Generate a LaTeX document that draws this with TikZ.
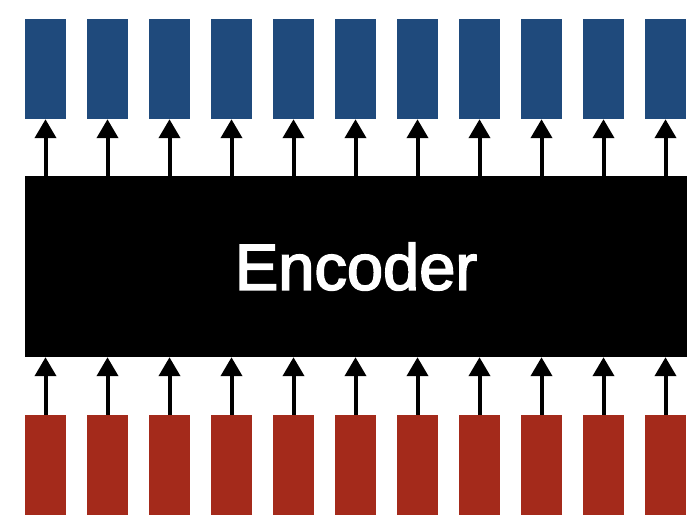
\documentclass[tikz,border=0pt]{standalone}
\usepackage{fontspec}
\setmainfont{Liberation Sans}
\newfontfamily\encfont[FakeBold=2.6]{Liberation Sans}
\usetikzlibrary{arrows.meta}

\definecolor{outblue}{RGB}{31,74,124}
\definecolor{inred}{RGB}{164,42,27}

\tikzset{
  vecbox/.style={minimum width=41pt, minimum height=100pt, inner sep=0pt},
  encbox/.style={fill=black, text=white, minimum width=662pt, minimum height=181pt,
    inner sep=0pt, font=\encfont\fontsize{65}{65}\selectfont},
  up/.style={line width=4pt, -{Triangle[width=21pt,length=19pt]}}
}

\begin{document}
\begin{tikzpicture}[x=1pt,y=1pt] % Tikz environment
\useasboundingbox (0,0) rectangle (700,528);

\node[encbox] (enc) at (356,261.5) {Encoder};

% one column per token: input below, output above
\foreach \i in {0,...,10} {
  \node[vecbox, fill=inred] (in\i) at (45.5+62*\i,63) {};
  \node[vecbox, fill=outblue] (out\i) at (45.5+62*\i,459) {};
  \draw[up] (in\i.north) -- (in\i.north |- enc.south);
  \draw[up] (out\i.south |- enc.north) -- (out\i.south);
}
\end{tikzpicture}
\end{document}
